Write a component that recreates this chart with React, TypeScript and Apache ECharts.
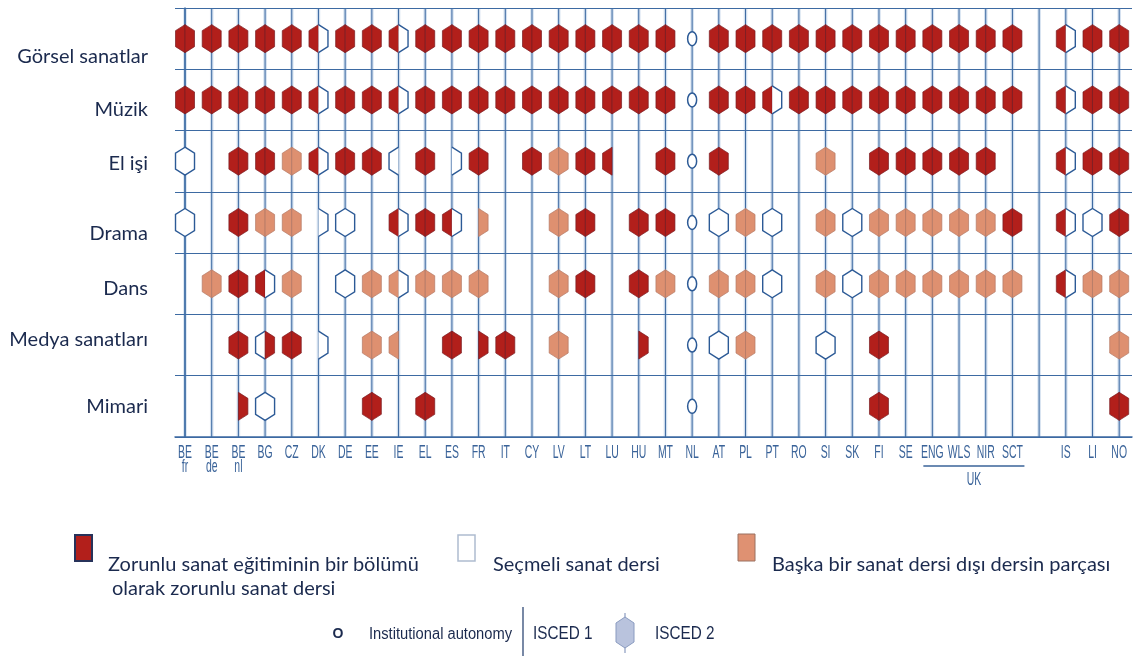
import React, { useEffect, useRef } from "react";
import * as echarts from "echarts";

const rows = ["Görsel sanatlar", "Müzik", "El işi", "Drama", "Dans", "Medya sanatları", "Mimari"];
const rowLabelNudge = [16, 8, 1, 9, 3, -7, -1];

const countries = [
  "BE\nfr", "BE\nde", "BE\nnl", "BG", "CZ", "DK", "DE", "EE", "IE", "EL", "ES", "FR", "IT", "CY", "LV", "LT", "LU", "HU",
  "MT", "NL", "AT", "PL", "PT", "RO", "SI", "SK", "FI", "SE", "ENG", "WLS", "NIR", "SCT", "", "IS", "LI", "NO",
];
const ukGroup = [28, 31];

// Codes: left half = ISCED 1, right half = ISCED 2. R compulsory, W optional, S part of another subject, - none, O autonomy
const gorsel = ["RR","RR","RR","RR","RR","RW","RR","RR","RW","RR","RR","RR","RR","RR","RR","RR","RR","RR","RR","O","RR","RR","RR","RR","RR","RR","RR","RR","RR","RR","RR","RR","","RW","RR","RR"];
const muzik = ["RR","RR","RR","RR","RR","RW","RR","RR","RW","RR","RR","RR","RR","RR","RR","RR","RR","RR","RR","O","RR","RR","RW","RR","RR","RR","RR","RR","RR","RR","RR","RR","","RW","RR","RR"];
const elIsi = ["WW","","RR","RR","SS","RW","RR","RR","W-","RR","-W","RR","","RR","SS","RR","R-","","RR","O","RR","","","","SS","","RR","RR","RR","RR","RR","","","RW","RR","RR"];
const drama = ["WW","","RR","SS","SS","-W","WW","","RW","RR","RW","-S","","","SS","RR","","RR","RR","O","WW","SS","WW","","SS","WW","SS","SS","SS","SS","SS","RR","","RW","WW","RR"];
const dans = ["","SS","RR","RW","SS","","WW","SS","SW","SS","SS","SS","","","SS","RR","","RR","SS","O","SS","SS","WW","","SS","WW","SS","SS","SS","SS","SS","SS","","RW","SS","SS"];
const medya = ["","","RR","WR","RR","-W","","SS","S-","","RR","-R","RR","","SS","","","-R","","O","WW","SS","","","WW","","RR","","","","","","","","","SS"];
const mimari = ["","","-R","WW","","","","RR","","RR","","","","","","","","","","O","","","","","","","RR","","","","","","","","","RR"];

const rowCodes = [gorsel, muzik, elIsi, drama, dans, medya, mimari];

const RED = "#b21f1b";
const SALMON = "#de9070";
const BLUE = "#2c5a96";
const GRID = "#3d6aa2";
const TEXT = "#1b2a4e";
const FONT = "Lato";

const cells: { col: number; row: number; code: string }[] = [];
rowCodes.forEach((arr, r) => {
  arr.forEach((code, c) => {
    if (code) cells.push({ col: c, row: r, code });
  });
});

const HW = 9.5;
const HH = 14;
const SH = 6;

function halfPts(cx: number, cy: number, side: number) {
  return [
    [cx, cy - HH],
    [cx + side * HW, cy - HH + SH],
    [cx + side * HW, cy + HH - SH],
    [cx, cy + HH],
  ];
}

function halfEls(cx: number, cy: number, side: number, k: string) {
  const pts = halfPts(cx, cy, side);
  if (k === "R") {
    return [{ type: "polygon", shape: { points: pts }, style: { fill: RED, stroke: "#7a1c22", lineWidth: 0.7 } }];
  }
  if (k === "S") {
    return [{ type: "polygon", shape: { points: pts }, style: { fill: SALMON, stroke: "#b57a66", lineWidth: 0.7 } }];
  }
  if (k === "W") {
    return [
      { type: "polygon", shape: { points: pts }, style: { fill: "#ffffff", stroke: "none" } },
      { type: "polyline", shape: { points: pts }, style: { fill: "none", stroke: BLUE, lineWidth: 1.4 } },
    ];
  }
  return [];
}

export default function App() {
  const ref = useRef<HTMLDivElement>(null);
  useEffect(() => {
    if (!ref.current) return;
    const chart = echarts.init(ref.current, null, { renderer: "svg" });
    const rich: any = {};
    rowLabelNudge.forEach((d, i) => {
      rich["r" + i] = {
        fontSize: 20,
        fontFamily: FONT,
        color: TEXT,
        padding: d >= 0 ? [2 * d, 0, 0, 0] : [0, 0, -2 * d, 0],
      };
    });
    const option: any = {
      animation: false,
      grid: { left: 175, right: 8, top: 8, bottom: 219, containLabel: false },
      xAxis: {
        type: "value",
        min: -0.375,
        max: 35.48,
        axisLine: { show: true, onZero: false, lineStyle: { color: GRID, width: 1.5 } },
        axisTick: { show: false },
        axisLabel: { show: false },
        splitLine: { show: false },
      },
      yAxis: {
        type: "category",
        data: rows,
        inverse: true,
        axisLine: { show: true, lineStyle: { color: GRID, width: 1.5 } },
        axisTick: { show: false },
        splitLine: { show: true, interval: 0, lineStyle: { color: GRID, width: 1.2 } },
        axisLabel: {
          interval: 0,
          margin: 27,
          formatter: (v: string, i: number) => `{r${i}|${v}}`,
          rich,
        },
      },
      series: [
        {
          type: "custom",
          name: "columns",
          z: 1,
          data: countries.map((_, i) => [i, 0]),
          renderItem: (params: any, api: any) => {
            const x = api.coord([api.value(0), 0])[0];
            const cs = params.coordSys;
            return {
              type: "group",
              children: [
                { type: "line", shape: { x1: x, y1: cs.y, x2: x, y2: cs.y + cs.height }, style: { stroke: "rgba(80,130,190,0.25)", lineWidth: 3.5 } },
                { type: "line", shape: { x1: x, y1: cs.y, x2: x, y2: cs.y + cs.height }, style: { stroke: GRID, lineWidth: 1 } },
              ],
            };
          },
        },
        {
          type: "custom",
          name: "cells",
          z: 3,
          data: cells.map((c) => [c.col, c.row]),
          renderItem: (params: any, api: any) => {
            const p = api.coord([api.value(0), api.value(1)]);
            const cx = p[0];
            const cy = p[1];
            const code = cells[params.dataIndex].code;
            if (code === "O") {
              return {
                type: "ellipse",
                shape: { cx, cy, rx: 4.5, ry: 7 },
                style: { fill: "#ffffff", stroke: BLUE, lineWidth: 1.5 },
              };
            }
            const children: any[] = [];
            if (code === "WW") {
              const pts = [
                [cx, cy - HH], [cx + HW, cy - HH + SH], [cx + HW, cy + HH - SH],
                [cx, cy + HH], [cx - HW, cy + HH - SH], [cx - HW, cy - HH + SH],
              ];
              children.push({ type: "polygon", shape: { points: pts }, style: { fill: "#ffffff", stroke: BLUE, lineWidth: 1.4 } });
            } else {
              children.push(...halfEls(cx, cy, -1, code[0]));
              children.push(...halfEls(cx, cy, 1, code[1]));
            }
            return { type: "group", children };
          },
        },
        {
          type: "custom",
          name: "countryLabels",
          z: 3,
          data: countries.map((_, i) => [i, 0]),
          renderItem: (params: any, api: any) => {
            const x = api.coord([api.value(0), 0])[0];
            const cs = params.coordSys;
            return {
              type: "text",
              x,
              y: cs.y + cs.height + 8,
              scaleX: 0.58,
              style: {
                text: countries[params.dataIndex],
                fontSize: 18,
                fontFamily: "Liberation Sans",
                fill: "#3a6399",
                align: "center",
                verticalAlign: "top",
                lineHeight: 14,
              },
            };
          },
        },
        {
          type: "custom",
          name: "ukGroup",
          z: 3,
          data: [ukGroup],
          renderItem: (params: any, api: any) => {
            const x1 = api.coord([api.value(0), 0])[0] - 9;
            const x2 = api.coord([api.value(1), 0])[0] + 12;
            const cs = params.coordSys;
            const y = cs.y + cs.height + 29;
            return {
              type: "group",
              children: [
                { type: "line", shape: { x1, y1: y, x2, y2: y }, style: { stroke: "#3a6399", lineWidth: 1.5 } },
                {
                  type: "text",
                  x: (x1 + x2) / 2,
                  y: y + 4,
                  scaleX: 0.58,
                  style: { text: "UK", fontSize: 18, fontFamily: "Liberation Sans", fill: "#3a6399", align: "center", verticalAlign: "top" },
                },
              ],
            };
          },
        },
      ],
      graphic: [
        { type: "rect", shape: { x: 75, y: 535, width: 17, height: 26 }, style: { fill: RED, stroke: "#27325a", lineWidth: 2 } },
        { type: "text", x: 108, y: 563, style: { text: "Zorunlu sanat eğitiminin bir bölümü", fontSize: 20, fontFamily: FONT, fill: TEXT, verticalAlign: "middle" } },
        { type: "text", x: 112, y: 587, style: { text: "olarak zorunlu sanat dersi", fontSize: 20, fontFamily: FONT, fill: TEXT, verticalAlign: "middle" } },
        { type: "rect", shape: { x: 458, y: 535, width: 17, height: 26 }, style: { fill: "#ffffff", stroke: "#aebcd0", lineWidth: 1.5 } },
        { type: "text", x: 493, y: 563, style: { text: "Seçmeli sanat dersi", fontSize: 20, fontFamily: FONT, fill: TEXT, verticalAlign: "middle" } },
        { type: "rect", shape: { x: 738, y: 534, width: 17, height: 27 }, style: { fill: "#df9172", stroke: "#9a7060", lineWidth: 1 } },
        { type: "text", x: 772, y: 563, style: { text: "Başka bir sanat dersi dışı dersin parçası", fontSize: 20, fontFamily: FONT, fill: TEXT, verticalAlign: "middle" } },
        { type: "text", x: 338, y: 633, style: { text: "O", fontSize: 14, fontWeight: "bold", fontFamily: "Liberation Sans", fill: TEXT, align: "center", verticalAlign: "middle" } },
        { type: "text", x: 369, y: 633, scaleX: 0.92, style: { text: "Institutional autonomy", fontSize: 16, fontFamily: "Liberation Sans", fill: TEXT, verticalAlign: "middle" } },
        { type: "line", shape: { x1: 523, y1: 607, x2: 523, y2: 656 }, style: { stroke: "#1f3a6a", lineWidth: 1.2 } },
        { type: "text", x: 533, y: 633, scaleX: 0.85, style: { text: "ISCED 1", fontSize: 18, fontFamily: "Liberation Sans", fill: TEXT, verticalAlign: "middle" } },
        { type: "line", shape: { x1: 625, y1: 613, x2: 625, y2: 653 }, style: { stroke: "#8a9bc0", lineWidth: 1.2 } },
        {
          type: "polygon",
          shape: { points: [[625, 617], [634, 623], [634, 642], [625, 648], [616, 642], [616, 623]] },
          style: { fill: "#b9c3dd", stroke: "#8a9bc0", lineWidth: 1 },
        },
        { type: "text", x: 655, y: 633, scaleX: 0.85, style: { text: "ISCED 2", fontSize: 18, fontFamily: "Liberation Sans", fill: TEXT, verticalAlign: "middle" } },
      ],
    };
    chart.setOption(option);
    return () => chart.dispose();
  }, []);
  return <div ref={ref} style={{ position: "fixed", left: 0, top: 0, width: 1140, height: 656 }} />;
}
